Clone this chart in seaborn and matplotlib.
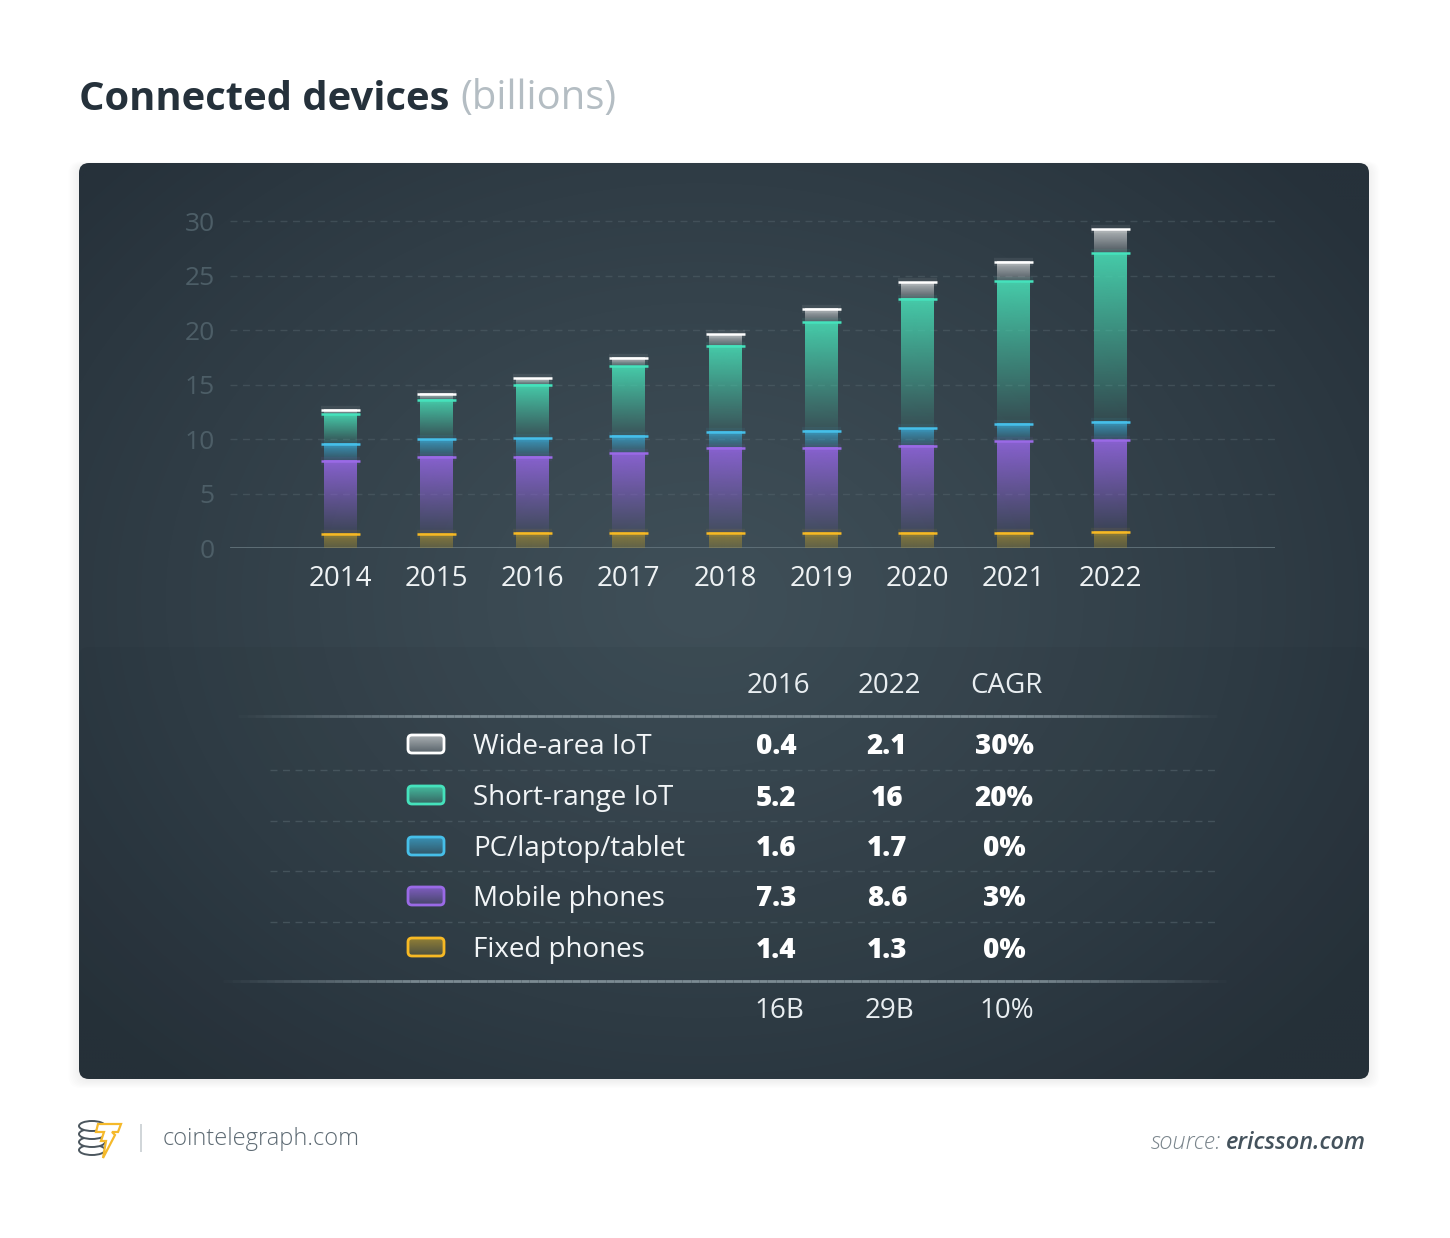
import numpy as np
import pandas as pd
import matplotlib
matplotlib.use("Agg")
import matplotlib.pyplot as plt
import seaborn as sns
from matplotlib.patches import FancyBboxPatch, Ellipse, Polygon
from matplotlib.collections import LineCollection
from matplotlib.colors import to_rgb


# ---- data ----
years = ["2014", "2015", "2016", "2017", "2018", "2019", "2020", "2021", "2022"]
fixed_phones = [1.3, 1.3, 1.4, 1.4, 1.4, 1.4, 1.4, 1.4, 1.5]
mobile_phones = [6.7, 7.1, 7.0, 7.3, 7.8, 7.8, 8.0, 8.4, 8.4]
pc_laptop_tablet = [1.6, 1.6, 1.7, 1.6, 1.5, 1.6, 1.6, 1.6, 1.7]
short_range_iot = [2.7, 3.6, 4.9, 6.4, 7.9, 10.0, 11.9, 13.1, 15.5]
wide_area_iot = [0.4, 0.6, 0.6, 0.8, 1.1, 1.2, 1.5, 1.8, 2.2]
y_ticks = [0, 5, 10, 15, 20, 25, 30]

table_header = ["2016", "2022", "CAGR"]
categories = ["Wide-area IoT", "Short-range IoT", "PC/laptop/tablet", "Mobile phones", "Fixed phones"]
values_2016 = [0.4, 5.2, 1.6, 7.3, 1.4]
values_2022 = [2.1, 16, 1.7, 8.6, 1.3]
cagr = [30, 20, 0, 3, 0]
totals = ["16B", "29B", "10%"]

# body colour, cap colour, alpha top, alpha bottom
styles = {
    "Fixed phones": ("#a48c34", "#f7b924", 0.75, 0.35),
    "Mobile phones": ("#8c63d6", "#9a6ae6", 0.95, 0.08),
    "PC/laptop/tablet": ("#3aa0c8", "#46bfe9", 0.9, 0.15),
    "Short-range IoT": ("#47d2ae", "#45e2bc", 0.95, 0.08),
    "Wide-area IoT": ("#c2c6c8", "#ffffff", 0.9, 0.2),
}

W, H = 1450, 1238
BG_LIGHT = "#3f4f58"
BG_DARK = "#26313a"

sns.set_theme(style="white")
plt.rcParams["font.family"] = ["Open Sans", "DejaVu Sans"]


def grad_img(color, a_top, a_bot, n=64):
    rgb = np.array(to_rgb(color))
    arr = np.zeros((n, 1, 4))
    arr[:, 0, :3] = rgb
    arr[:, 0, 3] = np.linspace(a_top, a_bot, n)
    return arr


def fade_line(ax, y, x0, x1, color, lw, alpha=1.0, n=120):
    xs = np.linspace(x0, x1, n + 1)
    segs = [[(xs[i], y), (xs[i + 1], y)] for i in range(n)]
    t = np.linspace(0, 1, n)
    a = alpha * np.clip(np.minimum(t, 1 - t) / 0.2, 0, 1)
    rgb = to_rgb(color)
    cols = [(rgb[0], rgb[1], rgb[2], v) for v in a]
    ax.add_collection(LineCollection(segs, colors=cols, linewidths=lw, zorder=3))


fig = plt.figure(figsize=(W / 100, H / 100), dpi=100)
fig.patch.set_facecolor("white")

# ---- background / panel ----
bg = fig.add_axes([0, 0, 1, 1], zorder=0)
bg.axis("off")

for i in range(8):
    sh = FancyBboxPatch((79 - i * 1.5, 163 - i * 0.5 + 2), 1290 + i * 3, 916 + i * 1.5,
                        boxstyle="round,pad=0,rounding_size=12", fc="#1f2a30",
                        ec="none", alpha=0.008, zorder=0)
    bg.add_patch(sh)

panel = FancyBboxPatch((79, 163), 1290, 916, boxstyle="round,pad=0,rounding_size=10",
                       fc="none", ec="none", zorder=1)
bg.add_patch(panel)
yy, xx = np.mgrid[163:1079:3, 79:1369:3]
d = np.sqrt(((xx - 700) / 820.0) ** 2 + ((yy - 600) / 640.0) ** 2)
t = np.clip(d, 0, 1) ** 1.2
img = np.array(to_rgb(BG_LIGHT)) * (1 - t[..., None]) + np.array(to_rgb(BG_DARK)) * t[..., None]
im = bg.imshow(img, extent=(79, 1369, 1079, 163), interpolation="bilinear", aspect="auto", zorder=1)
im.set_clip_path(panel)
band = FancyBboxPatch((79, 647), 1290, 432, boxstyle="round,pad=0,rounding_size=10",
                      fc="#1c252b", ec="none", alpha=0.07, zorder=1.5)
bg.add_patch(band)

# ---- chart ----
ax = fig.add_axes([230 / W, 1 - 548.3 / H, 1045 / W, 333.3 / H], zorder=2)
ax.patch.set_alpha(0)

series = [
    ("Fixed phones", fixed_phones),
    ("Mobile phones", mobile_phones),
    ("PC/laptop/tablet", pc_laptop_tablet),
    ("Short-range IoT", short_range_iot),
    ("Wide-area IoT", wide_area_iot),
]
vals = np.array([s for _, s in series], dtype=float)
tops = np.cumsum(vals, axis=0)
bottoms = tops - vals

bar_w = 0.34
cap_w = 0.405
for i in reversed(range(len(series))):
    name = series[i][0]
    body, cap, a_top, a_bot = styles[name]
    n0 = len(ax.patches)
    sns.barplot(x=years, y=tops[i], color=body, width=bar_w, errorbar=None, ax=ax)
    rects = ax.patches[n0:]
    for r, b, tp in zip(rects, bottoms[i], tops[i]):
        x0, w = r.get_x(), r.get_width()
        cx = x0 + w / 2
        r.set_visible(False)
        ax.imshow(grad_img(body, a_top, a_bot), extent=(x0, x0 + w, b, tp),
                  aspect="auto", interpolation="bilinear", zorder=2)
        ax.hlines(tp, cx - cap_w / 2, cx + cap_w / 2, color=cap, lw=6, alpha=0.07, zorder=3)
        ax.hlines(tp, cx - cap_w / 2, cx + cap_w / 2, color=cap, lw=1.8, zorder=4)

for yv in y_ticks[1:]:
    ax.axhline(yv, color="#5a6a72", lw=1, ls=(0, (5, 4)), alpha=0.42, zorder=1)
ax.axhline(0, color="#62727a", lw=2, zorder=1)

ax.set_xlim(-1.143, 9.714)
ax.set_ylim(0, 30.58)
ax.set_yticks(y_ticks)
ax.set_yticklabels([str(v) for v in y_ticks])
ax.set_xlabel("")
ax.set_ylabel("")
ax.tick_params(axis="y", length=0, pad=11, labelsize=19, labelcolor="#4d5e67")
ax.tick_params(axis="x", length=0, pad=12, labelsize=20, labelcolor="#eef2f4")
sns.despine(ax=ax, left=True, bottom=True)
ax.grid(False)

# ---- table ----
col_x = [778, 889, 1006]
row_y = [747, 798, 849, 899, 950]
for cx, txt in zip(col_x, table_header):
    bg.text(cx, 686, txt, ha="center", va="center", fontsize=20, color="#e9eef1", zorder=5)

fade_line(bg, 716, 230, 1225, "#7c8b93", 2.0)
fade_line(bg, 981, 215, 1235, "#7c8b93", 2.0)
for ym in [770, 821, 871, 922]:
    bg.hlines(ym, 270, 1220, color="#586870", lw=1, ls=(0, (5, 4)), alpha=0.55, zorder=3)

for k, name in enumerate(categories):
    body, cap, a_top, a_bot = styles[name]
    y = row_y[k]
    sy = y - 3
    sw = FancyBboxPatch((408, sy - 9), 36, 18, boxstyle="round,pad=0,rounding_size=4",
                        fc="none", ec=cap, lw=2, zorder=6)
    bg.add_patch(sw)
    g = bg.imshow(grad_img(body, 0.85, 0.25), extent=(408, 444, sy + 9, sy - 9),
                  aspect="auto", interpolation="bilinear", zorder=5)
    g.set_clip_path(sw)
    bg.text(473, y, name, ha="left", va="center", fontsize=20, color="#f2f5f7", zorder=5)
    cells = [f"{values_2016[k]:g}", f"{values_2022[k]:g}", f"{cagr[k]}%"]
    for cx, txt in zip(col_x, cells):
        bg.text(cx - 2, y, txt, ha="center", va="center", fontsize=20, fontweight="heavy",
                color="white", zorder=5)

for cx, txt in zip(col_x, totals):
    bg.text(cx + 1, 1011, txt, ha="center", va="center", fontsize=20, color="#e9eef1", zorder=5)

# ---- footer ----
for cy in [1150, 1142, 1134, 1126]:
    bg.add_patch(Ellipse((92, cy), 26, 10, fc="white", ec="#4b565e", lw=1.4, zorder=6))
bolt = Polygon([(98, 1124), (121, 1124), (118, 1132), (112, 1132), (115, 1135),
                (103, 1158), (106, 1141), (101, 1141), (104, 1132), (96, 1132)],
               closed=True, fc="white", ec="#f5b92b", lw=1.6, zorder=7)
bg.add_patch(bolt)
bg.vlines(141, 1124, 1152, color="#c8ced2", lw=1.2, zorder=6)
bg.text(163, 1139, "cointelegraph.com", ha="left", va="center", fontsize=17,
        color="#5d6a73", fontweight="light", zorder=6)

src = bg.text(1366, 1143, "ericsson.com", ha="right", va="center", fontsize=17,
              style="italic", fontweight="semibold", color="#44525c", zorder=6)

title = bg.text(79, 99, "Connected devices", ha="left", va="center", fontsize=28.8,
                fontweight="bold", color="#25313b", zorder=6)

bg.set_xlim(0, W)
bg.set_ylim(H, 0)

fig.canvas.draw()
renderer = fig.canvas.get_renderer()
bb = src.get_window_extent(renderer)
bg.text(bb.x0 - 5, 1143, "source:", ha="right", va="center", fontsize=17,
        style="italic", fontweight="light", color="#7a858c", zorder=6)
bb = title.get_window_extent(renderer)
bg.text(bb.x1 + 11, 99, "(billions)", ha="left", va="center", fontsize=28.8,
        color="#b4bdc3", zorder=6)

fig.savefig("out.png", dpi=100, facecolor="white")
